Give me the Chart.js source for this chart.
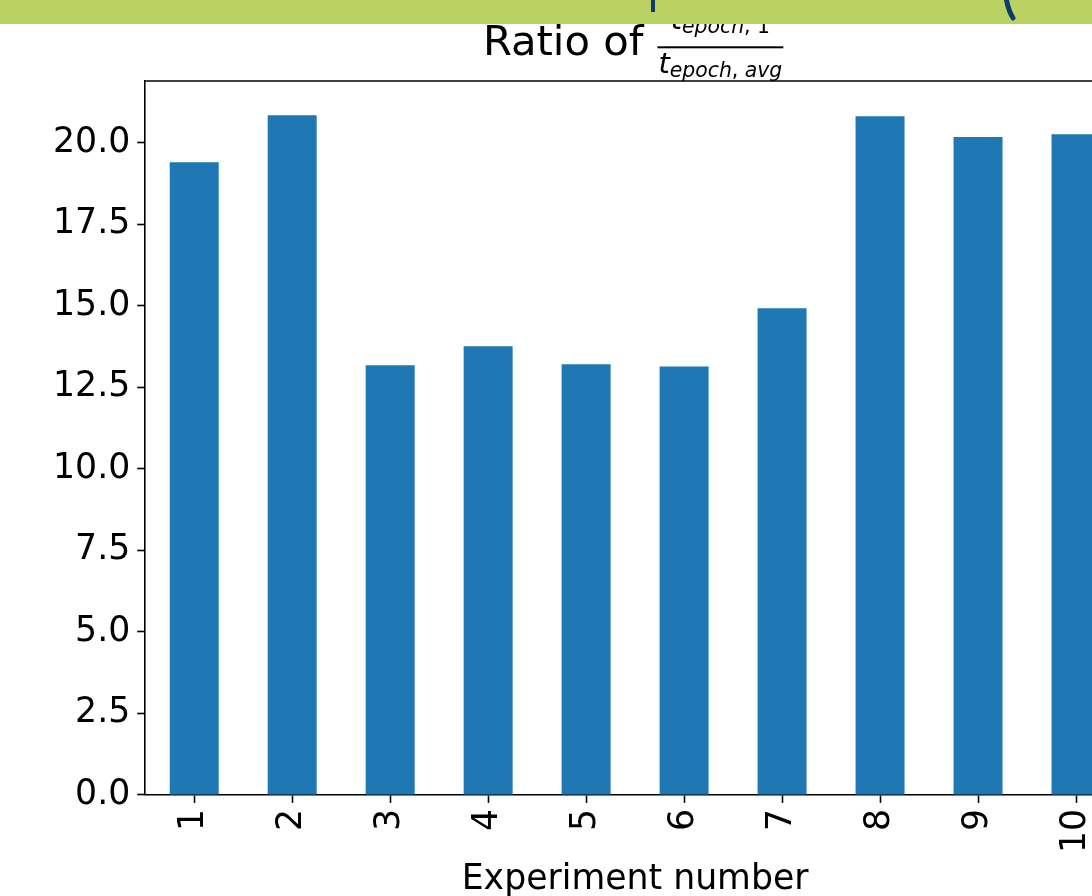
<!DOCTYPE html>
<html>
<head>
<meta charset="utf-8">
<script src="https://cdn.jsdelivr.net/npm/chart.js@4/dist/chart.umd.min.js"></script>
<style>
  html, body { margin: 0; padding: 0; background: #fff; overflow: hidden; width: 1092px; height: 896px; }
  #wrap { position: absolute; left: 0; top: 0; width: 1160px; height: 896px; }
  #banner { position: absolute; left: 0; top: 0; width: 1092px; height: 24px; background: #bbd262; z-index: 2; overflow: hidden; }
  .mark { position: absolute; background: #0f3d6b; }
</style>
</head>
<body>
<div id="banner">
  <div class="mark" style="left:651px;top:0;width:4px;height:12px"></div>
  <svg style="position:absolute;left:1000px;top:0" width="24" height="24">
    <path d="M6 -3 Q8 10 13 18" stroke="#0f3d6b" stroke-width="5" fill="none" stroke-linecap="round"/>
  </svg>
</div>
<div id="wrap"><canvas id="c"></canvas></div>
<script>
// Experiment numbers and the first-epoch / average-epoch time ratio for each run
const experiments = ['1', '2', '3', '4', '5', '6', '7', '8', '9', '10'];
const ratios = [19.41, 20.85, 13.18, 13.76, 13.21, 13.14, 14.93, 20.82, 20.18, 20.27];
const yTicks = [0, 2.5, 5, 7.5, 10, 12.5, 15, 17.5, 20];
const yMax = 21.9;

const FONT = '"DejaVu Sans", "Liberation Sans", sans-serif';
const TICK_PX = 34.7;

// Title "Ratio of t_{epoch,1} / t_{epoch,avg}" drawn as a stacked fraction
const fracTitle = {
  id: 'fracTitle',
  afterDraw(chart) {
    const ctx = chart.ctx;
    const ca = chart.chartArea;
    const cx = (ca.left + ca.right) / 2 - 2;
    const fMain = '41.7px ' + FONT;
    const fT = 'italic 29px ' + FONT;
    const fSub = 'italic 20.4px ' + FONT;
    const fSubUp = '20.4px ' + FONT;

    const num = [
      { t: 't', f: fT, dy: 0 },
      { t: 'epoch', f: fSub, dy: 4 },
      { t: ',', f: fSubUp, dy: 4 },
      { t: ' 1', f: fSubUp, dy: 4 }
    ];
    const den = [
      { t: 't', f: fT, dy: 0 },
      { t: 'epoch', f: fSub, dy: 4 },
      { t: ',', f: fSubUp, dy: 4 },
      { t: ' ', f: fSubUp, dy: 4 },
      { t: 'avg', f: fSub, dy: 4 }
    ];
    const width = parts => parts.reduce((w, p) => { ctx.font = p.f; return w + ctx.measureText(p.t).width; }, 0);

    ctx.save();
    ctx.fillStyle = '#000';
    ctx.textBaseline = 'alphabetic';
    ctx.textAlign = 'left';

    ctx.font = fMain;
    const lead = 'Ratio of';
    const wLead = ctx.measureText(lead).width;
    const gap = 14;
    const wNum = width(num), wDen = width(den);
    const wLine = Math.max(wNum, wDen) + 2;
    const total = wLead + gap + wLine;
    const x0 = cx - total / 2;

    ctx.font = fMain;
    ctx.fillText(lead, x0, 55);

    const lx = x0 + wLead + gap;
    ctx.fillRect(lx, 46.3, wLine, 2);

    const drawParts = (parts, startX, base) => {
      let x = startX;
      parts.forEach(p => {
        ctx.font = p.f;
        ctx.fillText(p.t, x, base + p.dy);
        x += ctx.measureText(p.t).width;
      });
    };
    drawParts(num, lx + (wLine - wNum) / 2, 29);
    drawParts(den, lx + (wLine - wDen) / 2, 73);
    ctx.restore();
  }
};

// Top and right frame lines around the plotting area
const frame = {
  id: 'frame',
  afterDraw(chart) {
    const ctx = chart.ctx;
    const ca = chart.chartArea;
    ctx.save();
    ctx.strokeStyle = '#000';
    ctx.lineWidth = 1.6;
    ctx.beginPath();
    ctx.moveTo(ca.left, ca.top);
    ctx.lineTo(ca.right, ca.top);
    ctx.lineTo(ca.right, ca.bottom);
    ctx.stroke();
    ctx.restore();
  }
};

new Chart(document.getElementById('c'), {
  type: 'bar',
  data: {
    labels: experiments,
    datasets: [{
      data: ratios,
      backgroundColor: '#1f77b4',
      borderWidth: 0,
      barPercentage: 0.5,
      categoryPercentage: 1.0
    }]
  },
  plugins: [fracTitle, frame],
  options: {
    responsive: true,
    maintainAspectRatio: false,
    animation: false,
    devicePixelRatio: 1,
    layout: { padding: { top: 81, left: 46, right: 35, bottom: 0 } },
    plugins: {
      legend: { display: false },
      title: { display: false },
      tooltip: { enabled: false }
    },
    scales: {
      x: {
        offset: true,
        grid: { display: true, offset: false, drawOnChartArea: false, drawTicks: true, tickLength: 8, tickColor: '#000', tickWidth: 1.6 },
        border: { display: true, color: '#000', width: 1.6 },
        ticks: {
          color: '#000',
          font: { family: FONT, size: TICK_PX },
          maxRotation: 90,
          minRotation: 90,
          autoSkip: false,
          padding: 6
        },
        title: {
          display: true,
          text: 'Experiment number',
          color: '#000',
          font: { family: FONT, size: TICK_PX, lineHeight: 0.95 },
          padding: { top: 4, bottom: 0 }
        }
      },
      y: {
        min: 0,
        max: yMax,
        afterBuildTicks(scale) {
          scale.ticks = yTicks.map(v => ({ value: v }));
        },
        grid: { display: true, drawOnChartArea: false, drawTicks: true, tickLength: 8, tickColor: '#000', tickWidth: 1.6 },
        border: { display: true, color: '#000', width: 1.6 },
        ticks: {
          color: '#000',
          font: { family: FONT, size: TICK_PX },
          padding: 7,
          callback: v => Number(v).toFixed(1)
        }
      }
    }
  }
});
</script>
</body>
</html>
